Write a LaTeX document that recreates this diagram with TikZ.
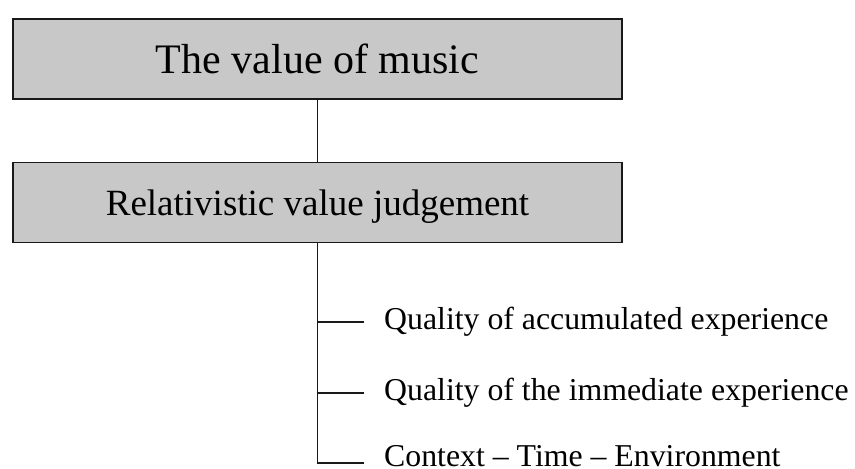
\documentclass[tikz,border=0pt]{standalone}
\usepackage{fontspec}
\setmainfont{Liberation Serif}
\usetikzlibrary{calc}
\definecolor{boxfill}{RGB}{200,200,200}
\definecolor{linecol}{RGB}{25,25,25}
\tikzset{
  headbox/.style={draw=linecol, fill=boxfill, line width=1.3pt, minimum width=609pt, minimum height=80pt, inner sep=0pt, text depth=0pt},
  leaf/.style={anchor=base west, inner sep=0pt, font=\fontsize{31.8}{36}\selectfont},
  conn/.style={draw=linecol, line width=1.2pt}
}
\begin{document}
\begin{tikzpicture}[x=1pt,y=-1pt]
\useasboundingbox (0,0) rectangle (855,469);
\node[headbox, text height=28pt, font=\fontsize{42}{48}\selectfont] (top) at (317.5,59) {The value of music};
\node[headbox, text height=25pt, font=\fontsize{37}{42}\selectfont] (rel) at (317.5,202.5) {Relativistic value judgement};
\node[leaf] (q1) at (384,329) {Quality of accumulated experience};
\node[leaf] (q2) at (384,400) {Quality of the immediate experience};
\node[leaf] (q3) at (384,466) {Context – Time – Environment};
\coordinate (b1) at ($(q1.base west)+(-20,-7)$);
\coordinate (b2) at ($(q2.base west)+(-20,-7)$);
\coordinate (b3) at ($(q3.base west)+(-20,-3)$);
\draw[conn] (top.south) -- (rel.north);
\draw[conn] (rel.south) |- (b3);
\draw[conn] (rel.south |- b1) -- (b1);
\draw[conn] (rel.south |- b2) -- (b2);
\end{tikzpicture}
\end{document}
